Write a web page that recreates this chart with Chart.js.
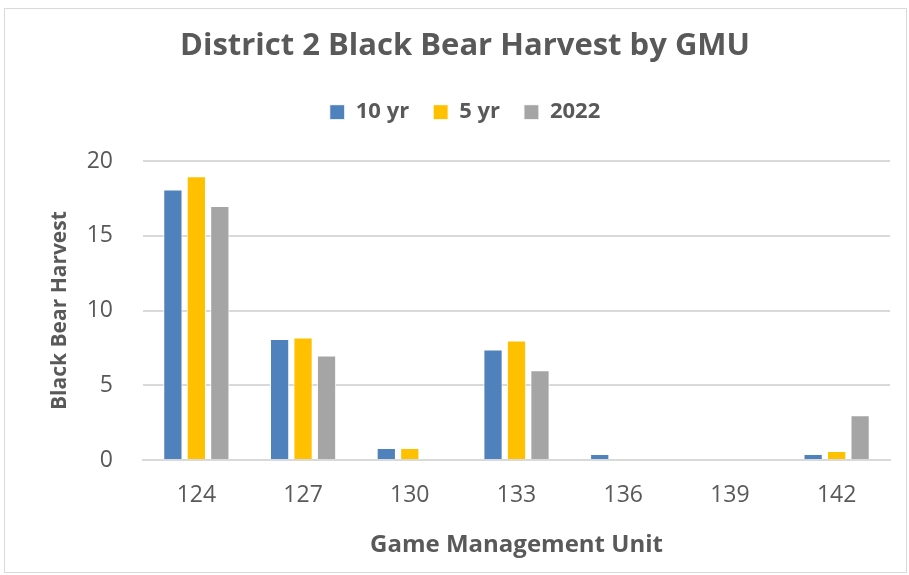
<!DOCTYPE html>
<html>
<head>
<meta charset="utf-8">
<script src="https://cdn.jsdelivr.net/npm/chart.js@4"></script>
<style>
  html, body { margin: 0; padding: 0; background: #fff; }
  .frame { position: absolute; left: 4px; top: 8px; width: 903px; height: 565px; border: 1px solid #d9d9d9; box-sizing: border-box; }
  .wrap { position: absolute; left: 5px; top: 9px; width: 900px; height: 562px; }
</style>
</head>
<body>
<div class="frame"></div>
<div class="wrap"><canvas id="bearChart"></canvas></div>
<script>
// GMU categories and harvest values
const gmus = ['124', '127', '130', '133', '136', '139', '142'];
const tenYear = [18.1, 8.1, 0.8, 7.4, 0.4, 0, 0.4];
const fiveYear = [19, 8.2, 0.8, 8, 0, 0, 0.6];
const year2022 = [17, 7, 0, 6, 0, 0, 3];
const yTicks = [0, 5, 10, 15, 20];

const txt = '#595959';
const font = '"Open Sans", sans-serif';

// extra room below the legend, like the original
const legendGap = {
  id: 'legendGap',
  beforeInit(chart) {
    const fit = chart.legend.fit;
    chart.legend.fit = function () {
      fit.bind(chart.legend)();
      this.height += 28;
    };
  }
};

new Chart(document.getElementById('bearChart'), {
  type: 'bar',
  data: {
    labels: gmus,
    datasets: [
      { label: '10 yr', data: tenYear, backgroundColor: '#4f81bd', borderColor: '#ffffff', borderWidth: 1 },
      { label: '5 yr', data: fiveYear, backgroundColor: '#ffc000', borderColor: '#ffffff', borderWidth: 1 },
      { label: '2022', data: year2022, backgroundColor: '#a5a5a5', borderColor: '#ffffff', borderWidth: 1 }
    ]
  },
  plugins: [legendGap],
  options: {
    responsive: true,
    maintainAspectRatio: false,
    animation: false,
    layout: { padding: { left: 35, right: 15, top: 0, bottom: 0 } },
    datasets: { bar: { categoryPercentage: 0.66, barPercentage: 0.82 } },
    plugins: {
      title: {
        display: true,
        text: 'District 2 Black Bear Harvest by GMU',
        color: txt,
        font: { family: font, size: 31, weight: 'bold' },
        padding: { top: 19, bottom: 12 }
      },
      legend: {
        position: 'top',
        labels: {
          color: txt,
          font: { family: font, size: 22, weight: 'bold' },
          boxWidth: 15,
          boxHeight: 15,
          padding: 24
        }
      },
      tooltip: { enabled: false }
    },
    scales: {
      x: {
        grid: { display: false },
        border: { color: '#d9d9d9', width: 2 },
        ticks: { color: txt, font: { family: font, size: 23 }, padding: 14 },
        title: {
          display: true,
          text: 'Game Management Unit',
          color: txt,
          font: { family: font, size: 24, weight: 'bold' },
          padding: { top: 2, bottom: 11 }
        },
        afterFit: axis => { axis.height = 111; }
      },
      y: {
        min: 0,
        max: 20,
        afterBuildTicks: axis => { axis.ticks = yTicks.map(v => ({ value: v })); },
        grid: { color: '#d9d9d9', lineWidth: 2, drawTicks: false },
        border: { display: false },
        ticks: { color: txt, font: { family: font, size: 23 }, padding: 30 },
        title: {
          display: true,
          text: 'Black Bear Harvest',
          color: txt,
          font: { family: font, size: 21, weight: 'bold' },
          padding: { top: 7, bottom: 0 }
        },
        afterFit: axis => { axis.width = 103; }
      }
    }
  }
});
</script>
</body>
</html>
